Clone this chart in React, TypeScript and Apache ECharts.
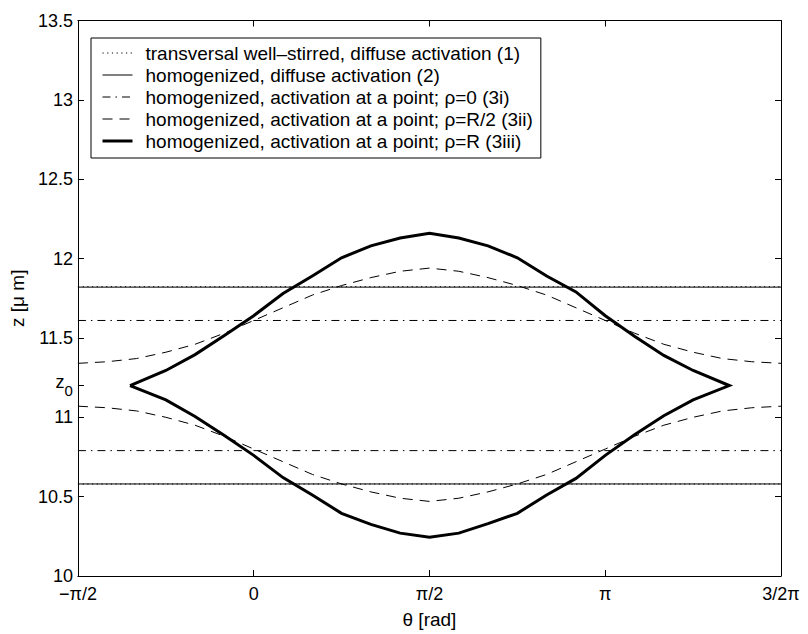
import React, { useEffect, useRef } from 'react';
import * as echarts from 'echarts';

const PI = Math.PI;

// axis ticks
const xTickValues = [-PI / 2, 0, PI / 2, PI, (3 * PI) / 2];
const xTickLabels = ['−π/2', '0', 'π/2', 'π', '3/2π'];
const yTickValues = [10, 10.5, 11, 11.2, 11.5, 12, 12.5, 13, 13.5];
const yTickLabels = ['10', '10.5', '11', '{z|z}{s|0}', '11.5', '12', '12.5', '13', '13.5'];

// legend names
const seriesNames = [
  'transversal well–stirred, diffuse activation (1)',
  'homogenized, diffuse activation (2)',
  'homogenized, activation at a point; ρ=0 (3i)',
  'homogenized, activation at a point; ρ=R/2 (3ii)',
  'homogenized, activation at a point; ρ=R (3iii)',
];

// horizontal levels (upper, lower)
const thetaEnds = [-PI / 2, (3 * PI) / 2];
const wellStirredLevels = [11.823, 10.579];
const homDiffuseLevels = [11.82, 10.58];
const pointRho0Levels = [11.61, 10.79];

// rho = R/2 curves, sampled every pi/12 from -pi/2 to 3pi/2
const thetaDashed = [
  -1.571, -1.309, -1.047, -0.785, -0.524, -0.262, 0, 0.262, 0.524, 0.785, 1.047, 1.309, 1.571,
  1.833, 2.094, 2.356, 2.618, 2.880, 3.142, 3.403, 3.665, 3.927, 4.189, 4.451, 4.712,
];
const rhoHalfUpper = [
  11.34, 11.35, 11.37, 11.41, 11.46, 11.53, 11.61, 11.69, 11.77, 11.83, 11.88, 11.92, 11.94,
  11.92, 11.88, 11.83, 11.77, 11.69, 11.61, 11.53, 11.46, 11.41, 11.37, 11.35, 11.34,
];
const rhoHalfLower = [
  11.07, 11.06, 11.04, 11.0, 10.95, 10.88, 10.8, 10.72, 10.64, 10.58, 10.53, 10.49, 10.47,
  10.49, 10.53, 10.58, 10.64, 10.72, 10.8, 10.88, 10.95, 11.0, 11.04, 11.06, 11.07,
];

// rho = R closed curve
const thetaBold = [
  -1.105, -0.785, -0.524, -0.262, 0, 0.262, 0.524, 0.785, 1.047, 1.309, 1.571, 1.833, 2.094,
  2.356, 2.618, 2.88, 3.142, 3.403, 3.665, 3.927, 4.25,
];
const rhoRUpper = [
  11.2, 11.295, 11.395, 11.515, 11.64, 11.78, 11.89, 12.005, 12.08, 12.13, 12.16, 12.13, 12.08,
  12.005, 11.89, 11.79, 11.64, 11.51, 11.39, 11.295, 11.2,
];
const rhoRLower = [
  11.2, 11.11, 11.005, 10.885, 10.76, 10.62, 10.51, 10.395, 10.325, 10.27, 10.245, 10.27, 10.33,
  10.395, 10.51, 10.615, 10.76, 10.89, 11.01, 11.11, 11.2,
];

const FONT = '"Liberation Sans", Arial, Helvetica, sans-serif';

function nearestLabel(v: number, vals: number[], labels: string[]) {
  let best = 0;
  for (let i = 1; i < vals.length; i++) {
    if (Math.abs(vals[i] - v) < Math.abs(vals[best] - v)) best = i;
  }
  return labels[best];
}

export default function App() {
  const ref = useRef<HTMLDivElement>(null);
  useEffect(() => {
    if (!ref.current) return;
    const chart = echarts.init(ref.current, null, { renderer: 'svg' });

    const hLine = (name: string, level: number, type: any, width: number) => ({
      name,
      type: 'line',
      symbol: 'none',
      data: thetaEnds.map((t) => [t, level]),
      itemStyle: { color: '#000' },
      lineStyle: { color: '#000', width, type },
      z: 2,
    });

    const series: any[] = [];
    wellStirredLevels.forEach((l) => series.push(hLine(seriesNames[0], l, [1.2, 3.5], 1)));
    homDiffuseLevels.forEach((l) => series.push(hLine(seriesNames[1], l, 'solid', 1)));
    pointRho0Levels.forEach((l) => series.push(hLine(seriesNames[2], l, [8, 5, 1.5, 5], 1)));
    [rhoHalfUpper, rhoHalfLower].forEach((arr) =>
      series.push({
        name: seriesNames[3],
        type: 'line',
        symbol: 'none',
        data: thetaDashed.map((t, i) => [t, arr[i]]),
        itemStyle: { color: '#000' },
        lineStyle: { color: '#000', width: 1, type: [10, 7] },
      })
    );
    const boldData: number[][] = [];
    thetaBold.forEach((t, i) => boldData.push([t, rhoRUpper[i]]));
    for (let i = thetaBold.length - 2; i >= 0; i--) boldData.push([thetaBold[i], rhoRLower[i]]);
    series.push({
      name: seriesNames[4],
      type: 'line',
      symbol: 'none',
      data: boldData,
      itemStyle: { color: '#000' },
      lineStyle: { color: '#000', width: 3, join: 'miter' },
      z: 3,
    });

    const axisLine = { show: true, onZero: false, lineStyle: { color: '#000', width: 1 } };
    const labelStyle = { color: '#000', fontSize: 18, fontFamily: FONT, lineHeight: 16 };

    chart.setOption({
      animation: false,
      backgroundColor: '#fff',
      textStyle: { fontFamily: FONT },
      grid: { left: 72.5, top: 20.5, width: 708.5, height: 557, containLabel: false },
      legend: {
        data: seriesNames,
        orient: 'vertical',
        left: 91,
        top: 38,
        padding: [4, 8, 6, 10],
        itemWidth: 30,
        itemHeight: 14,
        itemGap: 0,
        backgroundColor: '#fff',
        borderColor: '#000',
        borderWidth: 1,
        borderRadius: 0,
        inactiveColor: '#000',
        itemStyle: { color: 'rgba(0,0,0,0)', borderWidth: 0, opacity: 0 },
        lineStyle: { width: 'inherit', type: 'inherit' },
        formatter: (n: string) => '{a|' + n + '}',
        textStyle: {
          color: '#000',
          fontSize: 19,
          fontFamily: FONT,
          lineHeight: 22,
          rich: { a: { fontSize: 19, fontFamily: FONT, padding: [0, 0, 0, 8], lineHeight: 22 } },
        },
        selectedMode: false,
      },
      xAxis: [
        {
          type: 'value',
          position: 'bottom',
          min: -PI / 2,
          max: (3 * PI) / 2,
          axisLine,
          splitLine: { show: false },
          axisTick: {
            show: true,
            inside: true,
            length: 6,
            customValues: xTickValues,
            lineStyle: { color: '#000' },
          },
          axisLabel: {
            ...labelStyle,
            customValues: xTickValues,
            margin: 10,
            formatter: (v: number) => nearestLabel(v, xTickValues, xTickLabels),
          },
          name: 'θ [rad]',
          nameLocation: 'middle',
          nameGap: 34,
          nameTextStyle: { color: '#000', fontSize: 19, fontFamily: FONT },
        },
        {
          type: 'value',
          position: 'top',
          min: -PI / 2,
          max: (3 * PI) / 2,
          axisLine,
          splitLine: { show: false },
          axisTick: {
            show: true,
            inside: true,
            length: 6,
            customValues: xTickValues,
            lineStyle: { color: '#000' },
          },
          axisLabel: { show: false },
        },
      ],
      yAxis: [
        {
          type: 'value',
          position: 'left',
          min: 10,
          max: 13.5,
          axisLine,
          splitLine: { show: false },
          axisTick: {
            show: true,
            inside: true,
            length: 6,
            customValues: yTickValues,
            lineStyle: { color: '#000' },
          },
          axisLabel: {
            ...labelStyle,
            customValues: yTickValues,
            margin: 5,
            formatter: (v: number) => nearestLabel(v, yTickValues, yTickLabels),
            rich: {
              z: { fontSize: 18, fontFamily: FONT, color: '#000', padding: [0, 0, 7, 0] },
              s: { fontSize: 15, fontFamily: FONT, color: '#000', padding: [9, 0, 0, 0] },
            },
          },
          name: 'z [μ m]',
          nameLocation: 'middle',
          nameGap: 49,
          nameTextStyle: { color: '#000', fontSize: 19, fontFamily: FONT },
        },
        {
          type: 'value',
          position: 'right',
          min: 10,
          max: 13.5,
          interval: 0.5,
          axisLine,
          splitLine: { show: false },
          axisTick: { show: true, inside: true, length: 6, lineStyle: { color: '#000' } },
          axisLabel: { show: false },
        },
      ],
      series,
    });
    return () => chart.dispose();
  }, []);
  return (
    <div
      ref={ref}
      style={{ position: 'absolute', left: 0, top: 0, width: 808, height: 634, background: '#fff' }}
    />
  );
}
